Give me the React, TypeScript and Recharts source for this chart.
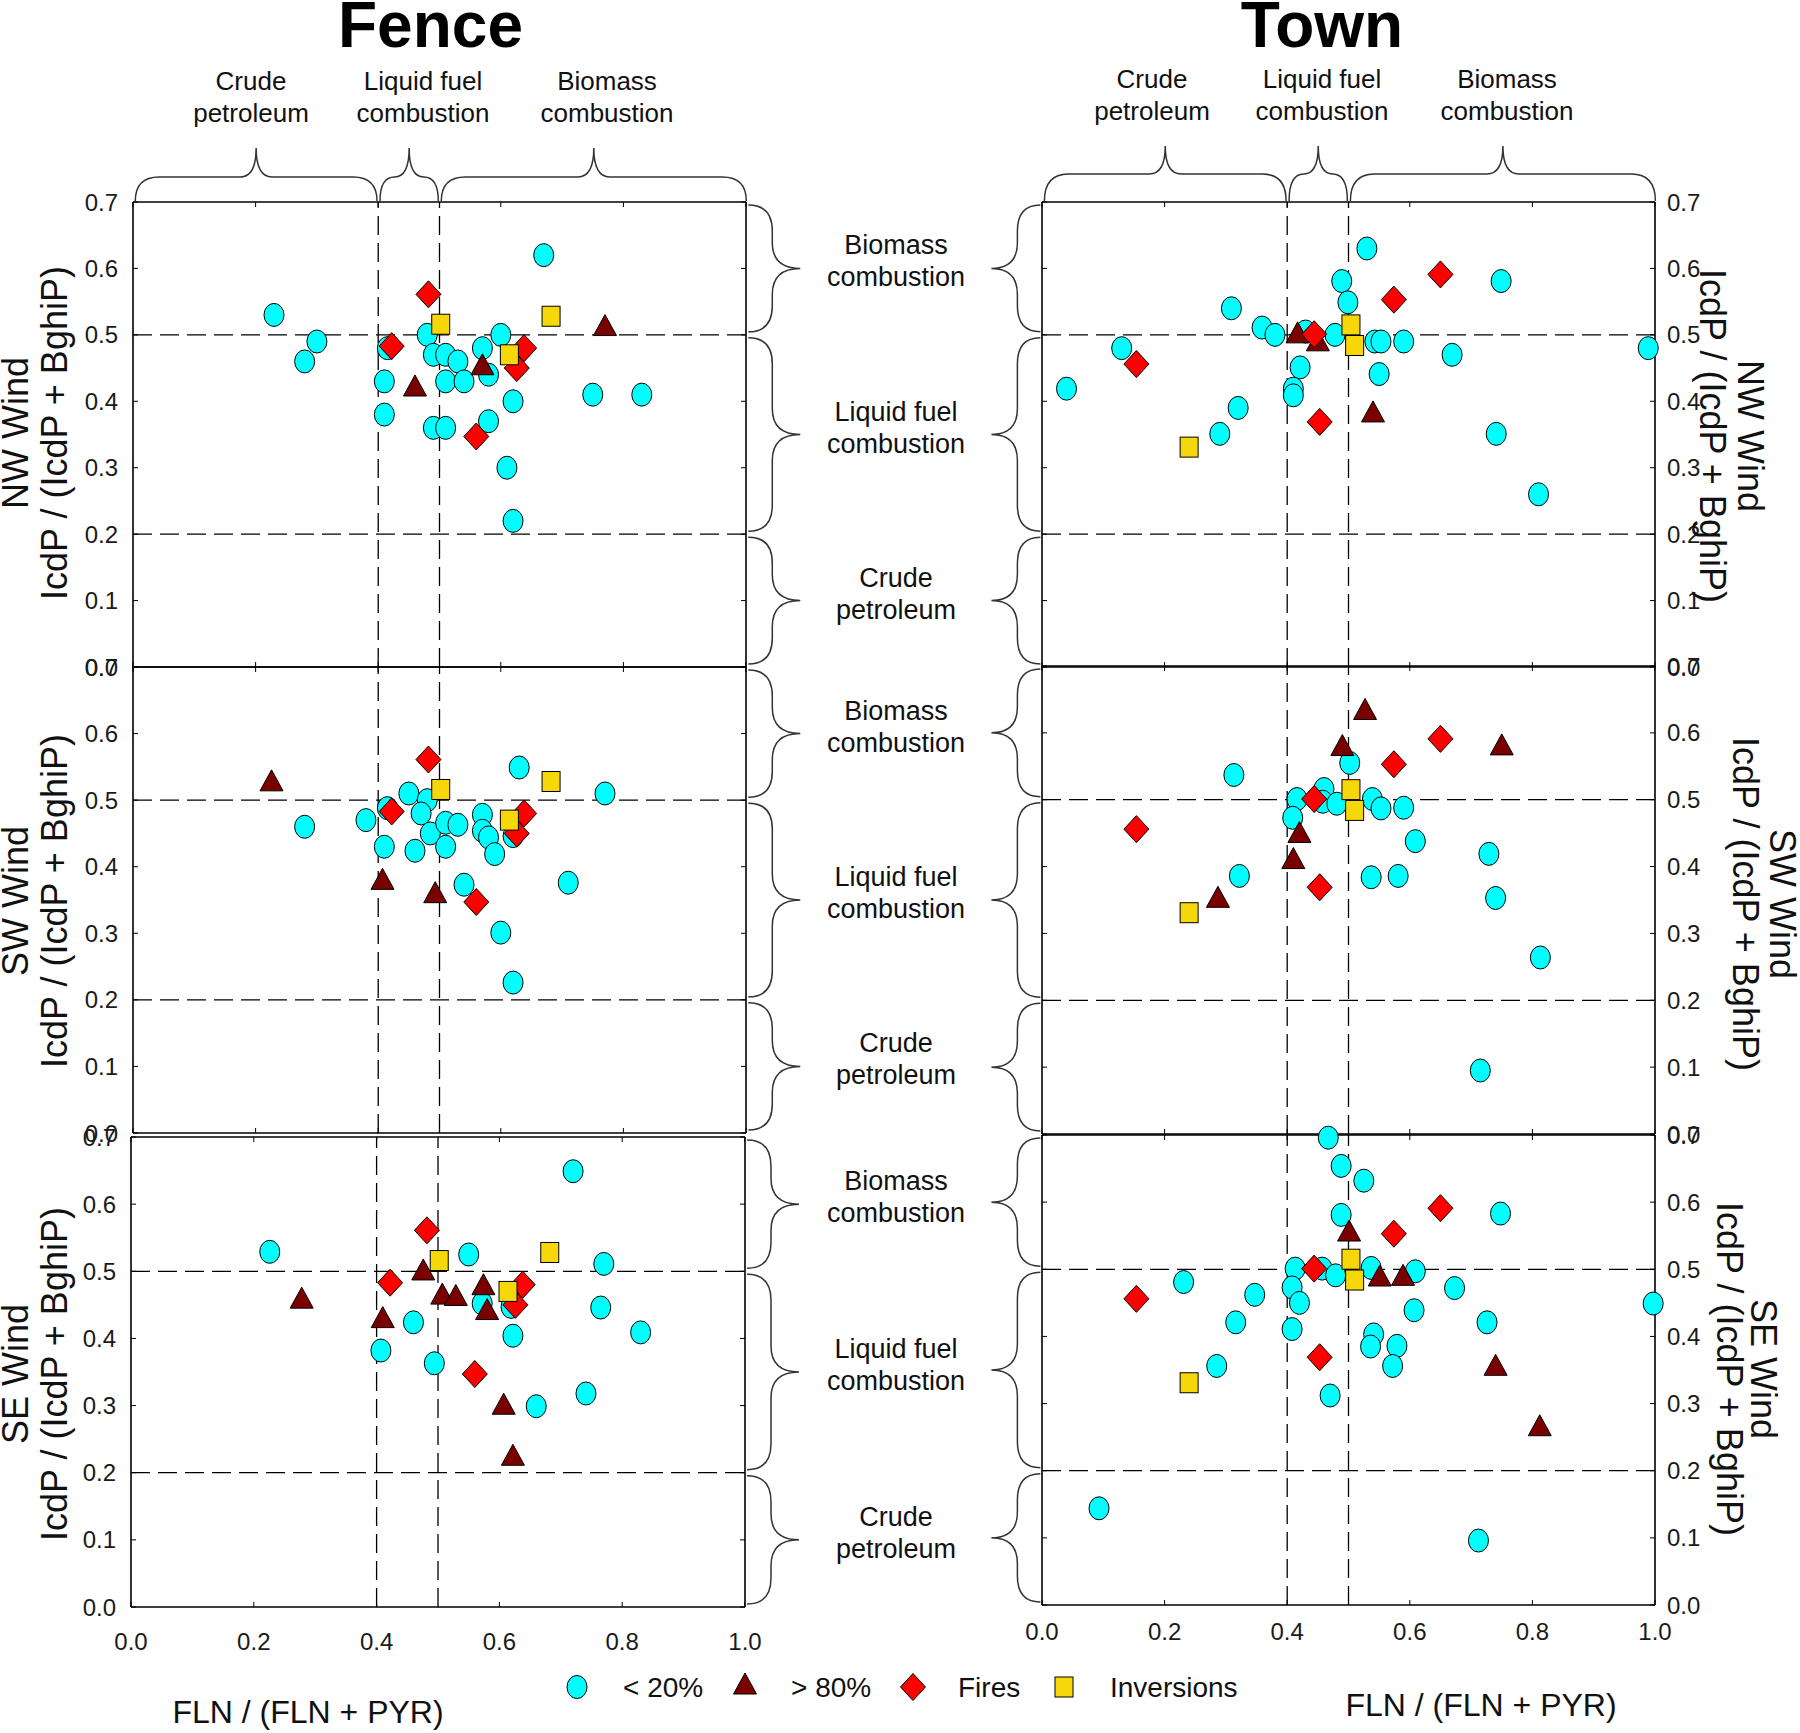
import React from 'react'
import { ScatterChart, Scatter, XAxis, YAxis, ReferenceLine } from 'recharts'

const FONT = "'Liberation Sans', Arial, Helvetica, sans-serif"

// axis ticks
const xTicks = [0, 0.2, 0.4, 0.6, 0.8, 1.0]
const yTicks = [0, 0.1, 0.2, 0.3, 0.4, 0.5, 0.6, 0.7]

// diagnostic ratio cut-offs (dashed lines)
const flnCuts = [0.4, 0.5]
const icdCuts = [0.2, 0.5]

// source bands along FLN/(FLN+PYR) and IcdP/(IcdP+BghiP)
const xBands = [
  { from: 0, to: 0.4, label: ['Crude', 'petroleum'] },
  { from: 0.4, to: 0.5, label: ['Liquid fuel', 'combustion'] },
  { from: 0.5, to: 1.0, label: ['Biomass', 'combustion'] },
]
const yBands = [
  { from: 0.5, to: 0.7, label: ['Biomass', 'combustion'] },
  { from: 0.2, to: 0.5, label: ['Liquid fuel', 'combustion'] },
  { from: 0, to: 0.2, label: ['Crude', 'petroleum'] },
]

// ---- Fence site ----
const fenceNwLow = [
  [0.23, 0.53], [0.30, 0.49], [0.28, 0.46], [0.67, 0.62], [0.48, 0.50], [0.415, 0.48],
  [0.41, 0.43], [0.41, 0.38], [0.49, 0.47], [0.51, 0.47], [0.53, 0.46], [0.51, 0.43],
  [0.54, 0.43], [0.49, 0.36], [0.51, 0.36], [0.57, 0.48], [0.58, 0.44], [0.60, 0.50],
  [0.62, 0.40], [0.58, 0.37], [0.61, 0.30], [0.62, 0.22], [0.75, 0.41], [0.83, 0.41],
]
const fenceNwHigh = [[0.46, 0.423], [0.57, 0.455], [0.77, 0.514]]

const fenceSwLow = [
  [0.28, 0.46], [0.38, 0.47], [0.41, 0.43], [0.415, 0.488], [0.45, 0.51], [0.48, 0.50],
  [0.47, 0.48], [0.485, 0.45], [0.46, 0.424], [0.51, 0.466], [0.53, 0.463], [0.51, 0.43],
  [0.54, 0.373], [0.57, 0.478], [0.57, 0.454], [0.58, 0.444], [0.59, 0.419], [0.62, 0.446],
  [0.63, 0.549], [0.60, 0.301], [0.62, 0.226], [0.71, 0.376], [0.77, 0.51],
]
const fenceSwHigh = [[0.226, 0.529], [0.407, 0.381], [0.493, 0.361]]

const fenceSeLow = [
  [0.226, 0.529], [0.55, 0.525], [0.72, 0.649], [0.77, 0.511], [0.765, 0.446], [0.83, 0.409],
  [0.46, 0.424], [0.407, 0.382], [0.494, 0.363], [0.572, 0.452], [0.622, 0.404], [0.619, 0.447],
  [0.66, 0.299], [0.741, 0.318],
]
const fenceSeHigh = [
  [0.278, 0.46], [0.41, 0.431], [0.476, 0.502], [0.507, 0.466], [0.529, 0.464],
  [0.574, 0.48], [0.58, 0.443], [0.607, 0.302], [0.622, 0.226],
]

const fenceFires = [[0.482, 0.561], [0.422, 0.483], [0.638, 0.48], [0.626, 0.45], [0.56, 0.347]]
const fenceInversions = [[0.502, 0.516], [0.682, 0.528], [0.614, 0.47]]

// ---- Town site ----
const townNwLow = [
  [0.04, 0.419], [0.13, 0.48], [0.309, 0.54], [0.32, 0.39], [0.29, 0.351], [0.359, 0.511],
  [0.38, 0.50], [0.43, 0.505], [0.421, 0.451], [0.41, 0.419], [0.41, 0.409], [0.489, 0.581],
  [0.499, 0.549], [0.53, 0.63], [0.478, 0.50], [0.543, 0.49], [0.553, 0.49], [0.59, 0.49],
  [0.55, 0.441], [0.669, 0.47], [0.749, 0.581], [0.741, 0.351], [0.81, 0.26], [0.989, 0.48],
]
const townNwHigh = [[0.417, 0.503], [0.45, 0.491], [0.54, 0.384]]

const townSwLow = [
  [0.313, 0.537], [0.322, 0.386], [0.502, 0.555], [0.416, 0.501], [0.409, 0.473], [0.46, 0.516],
  [0.458, 0.497], [0.481, 0.494], [0.539, 0.501], [0.553, 0.487], [0.59, 0.488], [0.609, 0.438],
  [0.537, 0.384], [0.581, 0.386], [0.729, 0.419], [0.74, 0.353], [0.813, 0.264], [0.715, 0.095],
]
const townSwHigh = [
  [0.527, 0.635], [0.49, 0.581], [0.75, 0.582], [0.42, 0.451], [0.41, 0.412], [0.287, 0.354],
]

const townSeLow = [
  [0.467, 0.696], [0.488, 0.654], [0.525, 0.632], [0.488, 0.581], [0.748, 0.583], [0.231, 0.481],
  [0.347, 0.462], [0.316, 0.421], [0.285, 0.356], [0.093, 0.144], [0.413, 0.501], [0.408, 0.473],
  [0.42, 0.45], [0.408, 0.411], [0.457, 0.501], [0.479, 0.491], [0.537, 0.502], [0.609, 0.497],
  [0.607, 0.439], [0.673, 0.472], [0.541, 0.403], [0.536, 0.385], [0.579, 0.386], [0.572, 0.356],
  [0.47, 0.312], [0.726, 0.421], [0.997, 0.449], [0.712, 0.096],
]
const townSeHigh = [[0.501, 0.557], [0.551, 0.49], [0.589, 0.491], [0.74, 0.357], [0.812, 0.267]]

const townFires = [[0.154, 0.456], [0.444, 0.501], [0.453, 0.369], [0.574, 0.553], [0.65, 0.591]]
const townInversions = [[0.24, 0.331], [0.504, 0.515], [0.51, 0.484]]

const legendItems = [
  { kind: 'low', label: '< 20%' },
  { kind: 'high', label: '> 80%' },
  { kind: 'fire', label: 'Fires' },
  { kind: 'inv', label: 'Inversions' },
]

const toPts = (arr: number[][]) => arr.map(([x, y]) => ({ x, y }))

// ---- marker shapes ----
const LowMark = (p: any) => (
  <ellipse cx={p.cx} cy={p.cy} rx={10} ry={11.5} fill="#00FFFF" stroke="#000" strokeWidth={1} />
)
const HighMark = (p: any) => (
  <polygon
    points={`${p.cx},${p.cy - 11} ${p.cx + 11.5},${p.cy + 10} ${p.cx - 11.5},${p.cy + 10}`}
    fill="#7A0000" stroke="#000" strokeWidth={1}
  />
)
const FireMark = (p: any) => (
  <polygon
    points={`${p.cx},${p.cy - 13.5} ${p.cx + 12.5},${p.cy} ${p.cx},${p.cy + 13.5} ${p.cx - 12.5},${p.cy}`}
    fill="#FF0000" stroke="#000" strokeWidth={1}
  />
)
const InvMark = (p: any) => (
  <rect x={p.cx - 9} y={p.cy - 10} width={18} height={20} fill="#F6D70A" stroke="#000" strokeWidth={1} />
)
const NoMark = () => <g />
const marks: Record<string, (p: any) => React.ReactElement> = {
  low: LowMark, high: HighMark, fire: FireMark, inv: InvMark,
}

// ---- layout ----
const PAD_L = 70, PAD_R = 70, PAD_T = 30, PAD_B = 60

const panels = [
  { wind: 'NW Wind', x: 133.3, y: 202, w: 613, h: 465, side: 'left', xLabels: false, xMargin: 30,
    low: fenceNwLow, high: fenceNwHigh, fires: fenceFires, inv: fenceInversions, lab: [28, 67], labY: 433 },
  { wind: 'SW Wind', x: 133.3, y: 667, w: 613, h: 466, side: 'left', xLabels: false, xMargin: 30,
    low: fenceSwLow, high: fenceSwHigh, fires: fenceFires, inv: fenceInversions, lab: [28, 67], labY: 901 },
  { wind: 'SE Wind', x: 131, y: 1137, w: 614, h: 470, side: 'left', xLabels: true, xMargin: 31,
    low: fenceSeLow, high: fenceSeHigh, fires: fenceFires, inv: fenceInversions, lab: [28, 67], labY: 1374 },
  { wind: 'NW Wind', x: 1042.4, y: 202, w: 613, h: 465, side: 'right', xLabels: false, xMargin: 30,
    low: townNwLow, high: townNwHigh, fires: townFires, inv: townInversions, lab: [1738, 1700], labY: 436 },
  { wind: 'SW Wind', x: 1042.4, y: 666, w: 613, h: 468, side: 'right', xLabels: false, xMargin: 30,
    low: townSwLow, high: townSwHigh, fires: townFires, inv: townInversions, lab: [1770, 1733], labY: 904 },
  { wind: 'SE Wind', x: 1042.4, y: 1135, w: 613, h: 470, side: 'right', xLabels: true, xMargin: 23,
    low: townSeLow, high: townSeHigh, fires: townFires, inv: townInversions, lab: [1751, 1717], labY: 1369 },
]

// label centres above the top braces, per column
const topLabelX = [[251, 423, 607], [1152, 1322, 1507]]
const topLabelBase = [90, 88]

const tickStyle = { fontSize: 24, fill: '#1a1a1a', fontFamily: FONT }
const axisStroke = { stroke: '#000', strokeWidth: 1.6 }
const fmt = (v: number) => v.toFixed(1)
const blank = () => ''

function Panel({ cfg }: { cfg: any }) {
  const { x, y, w, h, side, xLabels, xMargin } = cfg
  return (
    <div style={{ position: 'absolute', left: x - PAD_L, top: y - PAD_T }}>
      <ScatterChart
        width={w + PAD_L + PAD_R}
        height={h + PAD_T + PAD_B}
        margin={{ top: 0, right: 0, bottom: 0, left: 0 }}
      >
        <XAxis xAxisId="b" type="number" dataKey="x" domain={[0, 1]} ticks={xTicks} interval={0}
          orientation="bottom" height={PAD_B} tickSize={-5} tickMargin={xMargin}
          tickFormatter={xLabels ? fmt : blank} tick={tickStyle} axisLine={axisStroke} tickLine={{ stroke: '#000' }} />
        <XAxis xAxisId="t" type="number" dataKey="x" domain={[0, 1]} ticks={xTicks} interval={0}
          orientation="top" height={PAD_T} tickSize={-5} tickMargin={8}
          tickFormatter={blank} tick={tickStyle} axisLine={axisStroke} tickLine={{ stroke: '#000' }} />
        <YAxis yAxisId="l" type="number" dataKey="y" domain={[0, 0.7]} ticks={yTicks} interval={0}
          orientation="left" width={PAD_L} tickSize={-5} tickMargin={20}
          tickFormatter={side === 'left' ? fmt : blank} tick={tickStyle} axisLine={axisStroke} tickLine={{ stroke: '#000' }} />
        <YAxis yAxisId="r" type="number" dataKey="y" domain={[0, 0.7]} ticks={yTicks} interval={0}
          orientation="right" width={PAD_R} tickSize={-5} tickMargin={17}
          tickFormatter={side === 'right' ? fmt : blank} tick={tickStyle} axisLine={axisStroke} tickLine={{ stroke: '#000' }} />
        {flnCuts.map((v) => (
          <ReferenceLine key={'x' + v} xAxisId="b" yAxisId="l" x={v} stroke="#000" strokeWidth={1.3} strokeDasharray="19 8" />
        ))}
        {icdCuts.map((v) => (
          <ReferenceLine key={'y' + v} xAxisId="b" yAxisId="l" y={v} stroke="#000" strokeWidth={1.3} strokeDasharray="19 8" />
        ))}
        {/* binds the top / right frame axes so their ticks are drawn */}
        <Scatter xAxisId="t" yAxisId="r" data={toPts(cfg.low)} shape={NoMark} legendType="none" isAnimationActive={false} />
        <Scatter xAxisId="b" yAxisId="l" data={toPts(cfg.low)} shape={LowMark} isAnimationActive={false} />
        <Scatter xAxisId="b" yAxisId="l" data={toPts(cfg.high)} shape={HighMark} isAnimationActive={false} />
        <Scatter xAxisId="b" yAxisId="l" data={toPts(cfg.fires)} shape={FireMark} isAnimationActive={false} />
        <Scatter xAxisId="b" yAxisId="l" data={toPts(cfg.inv)} shape={InvMark} isAnimationActive={false} />
      </ScatterChart>
    </div>
  )
}

// curly brace paths
function hBrace(x1: number, x2: number, yEnd: number, yBody: number, yTip: number) {
  const xm = (x1 + x2) / 2
  const r = Math.min(24, (xm - x1) / 2)
  const r2 = Math.min(16, (xm - x1) / 2)
  return `M${x1},${yEnd} Q${x1},${yBody} ${x1 + r},${yBody} L${xm - r2},${yBody} Q${xm},${yBody} ${xm},${yTip} ` +
    `Q${xm},${yBody} ${xm + r2},${yBody} L${x2 - r},${yBody} Q${x2},${yBody} ${x2},${yEnd}`
}
function vBrace(y1: number, y2: number, xEnd: number, xBody: number, xTip: number) {
  const ym = (y1 + y2) / 2
  const r = Math.min(26, (ym - y1) / 2)
  const r2 = Math.min(26, (ym - y1) / 2)
  return `M${xEnd},${y1} Q${xBody},${y1} ${xBody},${y1 + r} L${xBody},${ym - r2} Q${xBody},${ym} ${xTip},${ym} ` +
    `Q${xBody},${ym} ${xBody},${ym + r2} L${xBody},${y2 - r} Q${xBody},${y2} ${xEnd},${y2}`
}

function Overlay() {
  const txt = { fontFamily: FONT, fill: '#111' }
  const top = [panels[0], panels[3]]
  const els: React.ReactNode[] = []

  top.forEach((p, ci) => {
    const sx = (v: number) => p.x + v * p.w
    const yEnd = p.y - 1
    const yBody = ci === 0 ? 177 : 174
    const yTip = ci === 0 ? 148 : 146
    xBands.forEach((b, bi) => {
      const a = sx(b.from) + (b.from === 0 ? 2 : 1.5)
      const z = sx(b.to) - (b.to === 1 ? 0 : 1.5)
      els.push(<path key={`hb${ci}${bi}`} d={hBrace(a, z, yEnd, yBody, yTip)} fill="none" stroke="#333" strokeWidth={1.5} />)
      const cx = topLabelX[ci][bi]
      els.push(
        <text key={`hl${ci}${bi}`} x={cx} y={topLabelBase[ci]} fontSize={26} textAnchor="middle" {...txt}>
          <tspan x={cx}>{b.label[0]}</tspan>
          <tspan x={cx} dy={32}>{b.label[1]}</tspan>
        </text>
      )
    })
  })

  panels.forEach((p, pi) => {
    const sy = (v: number) => p.y + p.h - (v / 0.7) * p.h
    const isLeft = p.side === 'left'
    yBands.forEach((b, bi) => {
      const a = sy(b.to) + 3
      const z = sy(b.from) - 3
      const d = isLeft ? vBrace(a, z, p.x + p.w + 2, p.x + p.w + 26, p.x + p.w + 54) : vBrace(a, z, p.x - 2, p.x - 25, p.x - 51)
      els.push(<path key={`vb${pi}${bi}`} d={d} fill="none" stroke="#333" strokeWidth={1.5} />)
      if (isLeft) {
        const ty = (sy(b.from) + sy(b.to)) / 2
        els.push(
          <text key={`vl${pi}${bi}`} x={896} y={ty - 14} fontSize={27} textAnchor="middle" {...txt}>
            <tspan x={896}>{b.label[0]}</tspan>
            <tspan x={896} dy={32}>{b.label[1]}</tspan>
          </text>
        )
      }
    })
    const rot = isLeft ? -90 : 90
    els.push(
      <text key={`w${pi}`} transform={`translate(${p.lab[0]},${p.labY}) rotate(${rot})`} fontSize={36} textAnchor="middle" {...txt}>
        {p.wind}
      </text>
    )
    els.push(
      <text key={`r${pi}`} transform={`translate(${p.lab[1]},${p.labY}) rotate(${rot})`} fontSize={36} textAnchor="middle" {...txt}>
        IcdP / (IcdP + BghiP)
      </text>
    )
  })

  const legendPos = [
    { mx: 577, my: 1687, tx: 623 },
    { mx: 745, my: 1684, tx: 791 },
    { mx: 913, my: 1687, tx: 958 },
    { mx: 1064, my: 1687, tx: 1110 },
  ]

  return (
    <svg width={1800} height={1733} style={{ position: 'absolute', left: 0, top: 0, pointerEvents: 'none' }}>
      <text x={430.5} y={47} fontSize={64} fontWeight="bold" textAnchor="middle" {...txt} fill="#000">Fence</text>
      <text x={1322} y={47} fontSize={64} fontWeight="bold" textAnchor="middle" {...txt} fill="#000">Town</text>
      {els}
      <text x={308} y={1723} fontSize={32} textAnchor="middle" {...txt}>FLN / (FLN + PYR)</text>
      <text x={1481} y={1716} fontSize={32} textAnchor="middle" {...txt}>FLN / (FLN + PYR)</text>
      {legendItems.map((it, i) => {
        const Mark = marks[it.kind]
        const pos = legendPos[i]
        return (
          <g key={it.kind}>
            <Mark cx={pos.mx} cy={pos.my} />
            <text x={pos.tx} y={1697} fontSize={28} {...txt}>{it.label}</text>
          </g>
        )
      })}
    </svg>
  )
}

export default function App() {
  return (
    <div style={{ position: 'absolute', left: 0, top: 0, width: 1800, height: 1733, background: '#fff', overflow: 'hidden' }}>
      {panels.map((p, i) => (
        <Panel key={i} cfg={p} />
      ))}
      <Overlay />
    </div>
  )
}
